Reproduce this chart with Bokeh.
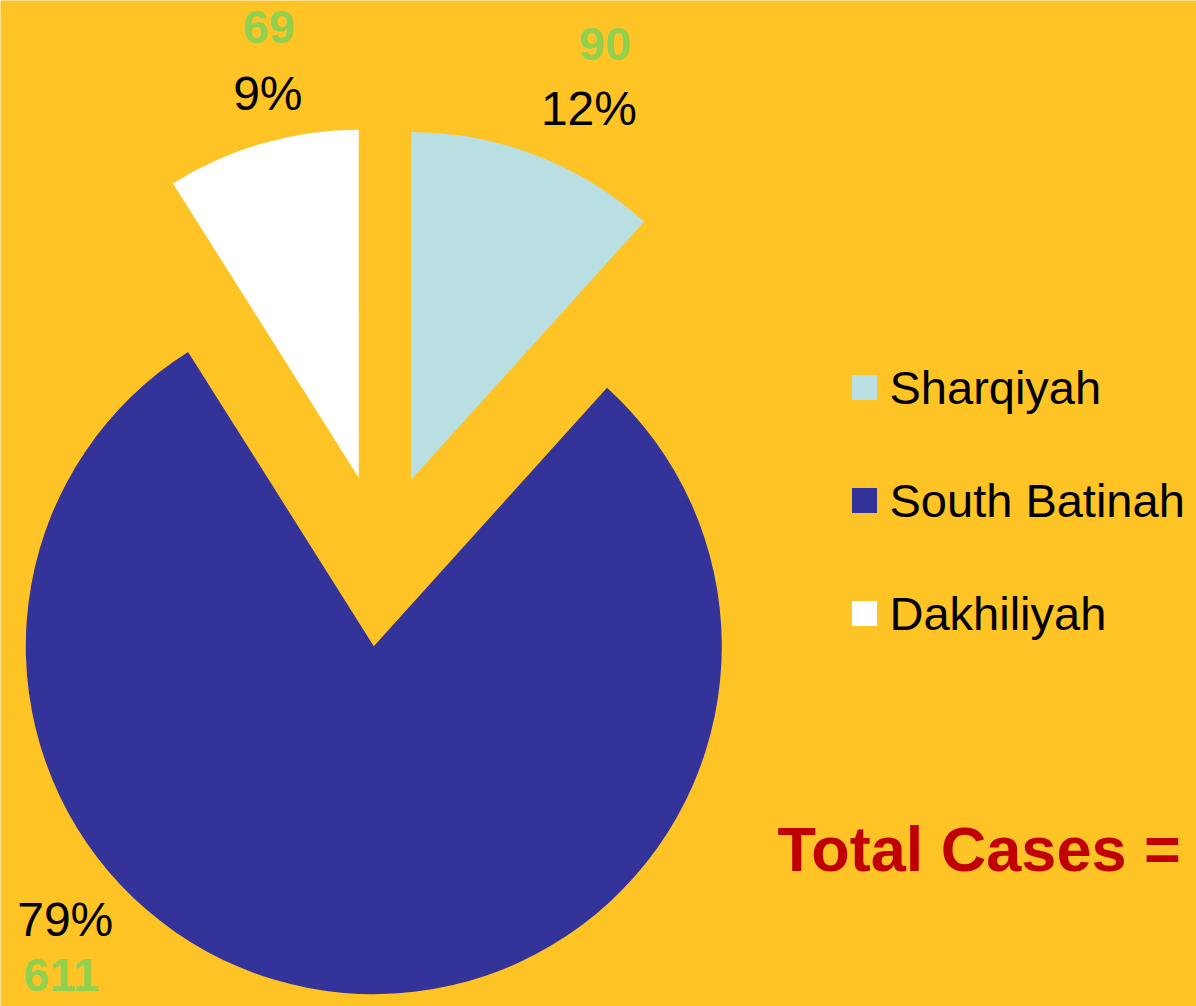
import math
from bokeh.plotting import figure
from bokeh.models import Range1d, ColumnDataSource
from bokeh.core.properties import value
from bokeh.embed import file_html
from bokeh.resources import INLINE

# ---- data ----
categories = ["Sharqiyah", "South Batinah", "Dakhiliyah"]
cases = [90, 611, 69]
slice_colors = ["#B9DFE3", "#333399", "#FFFFFF"]
total_label = "Total Cases ="

# ---- layout / style ----
W, H = 1196, 1006
BG = "#FEC325"
pie_cx, pie_cy = 381, H - 556
radius = 348
explode = [82, 90, 82]
label_ang = [25.6, 228.5, -13.3]      # degrees clockwise from 12 o'clock
label_dist = [412, 412, 395]
count_off = [(16, 64), (-4, -56), (1, 66)]
FONT = "Liberation Sans"

total = sum(cases)
starts, ends, xs, ys = [], [], [], []
pct_x, pct_y, cnt_x, cnt_y, pct_txt, cnt_txt = [], [], [], [], [], []
acc = 0.0
for i, v in enumerate(cases):
    a1 = acc / total * 2 * math.pi
    acc += v
    a2 = acc / total * 2 * math.pi
    mid = (a1 + a2) / 2
    cx = pie_cx + explode[i] * math.sin(mid)
    cy = pie_cy + explode[i] * math.cos(mid)
    xs.append(cx); ys.append(cy)
    starts.append(math.pi / 2 - a2)
    ends.append(math.pi / 2 - a1)
    la = math.radians(label_ang[i])
    px = cx + label_dist[i] * math.sin(la)
    py = cy + label_dist[i] * math.cos(la)
    pct_x.append(px); pct_y.append(py)
    cnt_x.append(px + count_off[i][0]); cnt_y.append(py + count_off[i][1])
    pct_txt.append(f"{round(v / total * 100)}%")
    cnt_txt.append(str(v))

src = ColumnDataSource(dict(x=xs, y=ys, start=starts, end=ends, color=slice_colors,
                            px=pct_x, py=pct_y, cx=cnt_x, cy=cnt_y,
                            pt=pct_txt, ct=cnt_txt, name=categories))

p = figure(width=W, height=H, x_range=Range1d(0, W), y_range=Range1d(0, H),
           min_border=0, output_backend="svg", toolbar_location=None,
           background_fill_color=BG, border_fill_color=BG, outline_line_color=None)
p.axis.visible = False
p.grid.visible = False

p.wedge(x="x", y="y", radius=radius, start_angle="start", end_angle="end",
        direction="anticlock", fill_color="color", line_color=None, source=src)

p.text(x="px", y="py", text="pt", source=src, text_font=value(FONT),
       text_font_size="48px", text_color="black", text_align="center",
       text_baseline="middle")
p.text(x="cx", y="cy", text="ct", source=src, text_font=value(FONT),
       text_font_size="47px", text_font_style="bold", text_color="#92D050",
       text_align="center", text_baseline="middle")

# legend (manual)
leg_x, leg_y0, leg_step = 864, H - 387, 113
lx = [leg_x] * len(categories)
ly = [leg_y0 - i * leg_step for i in range(len(categories))]
leg = ColumnDataSource(dict(x=lx, y=ly, tx=[x + 25 for x in lx], color=slice_colors,
                            name=categories))
p.rect(x="x", y="y", width=25, height=25, fill_color="color", line_color=None, source=leg)
p.text(x="tx", y="y", text="name", source=leg, text_font=value(FONT),
       text_font_size="47px", text_color="black", text_align="left",
       text_baseline="middle")

p.text(x=[777], y=[H - 848], text=[total_label], text_font=value(FONT),
       text_font_size="63px", text_font_style="bold", text_color="#C00000",
       text_align="left", text_baseline="middle")

open("out.html", "w").write(file_html(p, INLINE))
